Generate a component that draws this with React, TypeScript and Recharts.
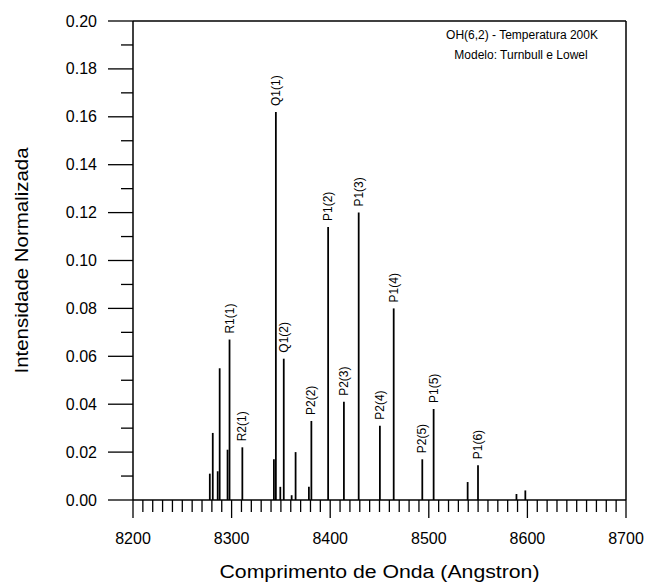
import React from 'react';
import {
  ComposedChart,
  Bar,
  XAxis,
  YAxis,
  ReferenceLine,
  LabelList,
  Customized,
} from 'recharts';

// OH(6,2) synthetic spectrum, T = 200K (Turnbull & Lowe model)
const wavelengths = [
  8278, 8281, 8286, 8288, 8296, 8298, 8311, 8343, 8345, 8349.5, 8353, 8361, 8365,
  8378.5, 8381, 8398, 8414, 8429, 8450.5, 8464.5, 8493.5, 8505, 8539.5, 8550, 8589, 8598,
];
const intensities = [
  0.011, 0.028, 0.012, 0.055, 0.021, 0.067, 0.022, 0.017, 0.162, 0.0055, 0.059, 0.002, 0.02,
  0.0055, 0.033, 0.114, 0.041, 0.12, 0.031, 0.08, 0.017, 0.038, 0.0075, 0.0145, 0.0025, 0.004,
];
const lineLabels = [
  '', '', '', '', '', 'R1(1)', 'R2(1)', '', 'Q1(1)', '', 'Q1(2)', '', '',
  '', 'P2(2)', 'P1(2)', 'P2(3)', 'P1(3)', 'P2(4)', 'P1(4)', 'P2(5)', 'P1(5)', '', 'P1(6)', '', '',
];

const xTicks = [
  8200, 8210, 8220, 8230, 8240, 8250, 8260, 8270, 8280, 8290,
  8300, 8310, 8320, 8330, 8340, 8350, 8360, 8370, 8380, 8390,
  8400, 8410, 8420, 8430, 8440, 8450, 8460, 8470, 8480, 8490,
  8500, 8510, 8520, 8530, 8540, 8550, 8560, 8570, 8580, 8590,
  8600, 8610, 8620, 8630, 8640, 8650, 8660, 8670, 8680, 8690, 8700,
];
const yTicks = [
  0, 0.01, 0.02, 0.03, 0.04, 0.05, 0.06, 0.07, 0.08, 0.09, 0.1,
  0.11, 0.12, 0.13, 0.14, 0.15, 0.16, 0.17, 0.18, 0.19, 0.2,
];

const FONT = '"Liberation Sans", Arial, sans-serif';
const INK = '#000';

const rows = wavelengths.map((wl, i) => ({ wl, v: intensities[i], label: lineLabels[i] }));

const XTick = (props: any) => {
  const { x, y, payload } = props;
  const major = payload.value % 100 === 0;
  return (
    <g>
      <line x1={x} x2={x} y1={y} y2={y + (major ? 18 : 12)} stroke={INK} strokeWidth={1.3} />
      {major && (
        <text x={x} y={y + 38} textAnchor="middle" dominantBaseline="central"
          fontFamily={FONT} fontSize={16} fill={INK}>
          {payload.value}
        </text>
      )}
    </g>
  );
};

const YTick = (props: any) => {
  const { x, y, payload } = props;
  const major = Math.round(payload.value * 100) % 2 === 0;
  return (
    <g>
      <line x1={x - (major ? 25 : 12)} x2={x} y1={y} y2={y} stroke={INK} strokeWidth={1.3} />
      {major && (
        <text x={x - 36} y={y} textAnchor="end" dominantBaseline="central"
          fontFamily={FONT} fontSize={16} fill={INK}>
          {payload.value.toFixed(2)}
        </text>
      )}
    </g>
  );
};

const LineLabel = (props: any) => {
  const { x, y, width, value } = props;
  if (!value) return null;
  const cx = x + width / 2;
  const top = y - 6;
  return (
    <text x={cx} y={top} transform={`rotate(-90 ${cx} ${top})`} textAnchor="start"
      dominantBaseline="central" fontFamily={FONT} fontSize={12} fill={INK}>
      {value}
    </text>
  );
};

const XTitle = (props: any) => {
  const { viewBox } = props;
  const cx = viewBox.x + viewBox.width / 2;
  return (
    <text x={cx} y={viewBox.y + 72} textAnchor="middle" dominantBaseline="central"
      fontFamily={FONT} fontSize={18} fill={INK} textLength={320} lengthAdjust="spacingAndGlyphs">
      Comprimento de Onda (Angstron)
    </text>
  );
};

const YTitle = (props: any) => {
  const { viewBox } = props;
  const cy = viewBox.y + viewBox.height / 2;
  return (
    <text x={22} y={cy} transform={`rotate(-90 22 ${cy})`} textAnchor="middle"
      dominantBaseline="central" fontFamily={FONT} fontSize={18} fill={INK}
      textLength={226} lengthAdjust="spacingAndGlyphs">
      Intensidade Normalizada
    </text>
  );
};

const Note = () => (
  <g fontFamily={FONT} fontSize={12} fill={INK} textAnchor="middle">
    <text x={522} y={39}>OH(6,2) - Temperatura 200K</text>
    <text x={521} y={59}>Modelo: Turnbull e Lowel</text>
  </g>
);

export default function App() {
  return (
    <div style={{ position: 'absolute', left: 0, top: 0, width: 648, height: 584, background: '#fff' }}>
      <ComposedChart width={648} height={584} data={rows}
        margin={{ top: 21, right: 22, bottom: 0, left: 0 }}>
        <XAxis type="number" dataKey="wl" domain={[8200, 8700]} ticks={xTicks} interval={0}
          allowDataOverflow height={84} tickLine={false} tickSize={0} tickMargin={0}
          tick={<XTick />} axisLine={{ stroke: INK, strokeWidth: 1.5 }}
          label={{ content: <XTitle /> }} />
        <YAxis type="number" domain={[0, 0.2]} ticks={yTicks} interval={0} allowDataOverflow
          width={133} tickLine={false} tickSize={0} tickMargin={0}
          tick={<YTick />} axisLine={{ stroke: INK, strokeWidth: 1.5 }}
          label={{ content: <YTitle /> }} />
        <ReferenceLine y={0.2} stroke={INK} strokeWidth={1.5} />
        <ReferenceLine x={8700} stroke={INK} strokeWidth={1.5} />
        <Bar dataKey="v" barSize={2} fill={INK} isAnimationActive={false}>
          <LabelList dataKey="label" content={<LineLabel />} />
        </Bar>
        <Customized component={Note} />
      </ComposedChart>
    </div>
  );
}
